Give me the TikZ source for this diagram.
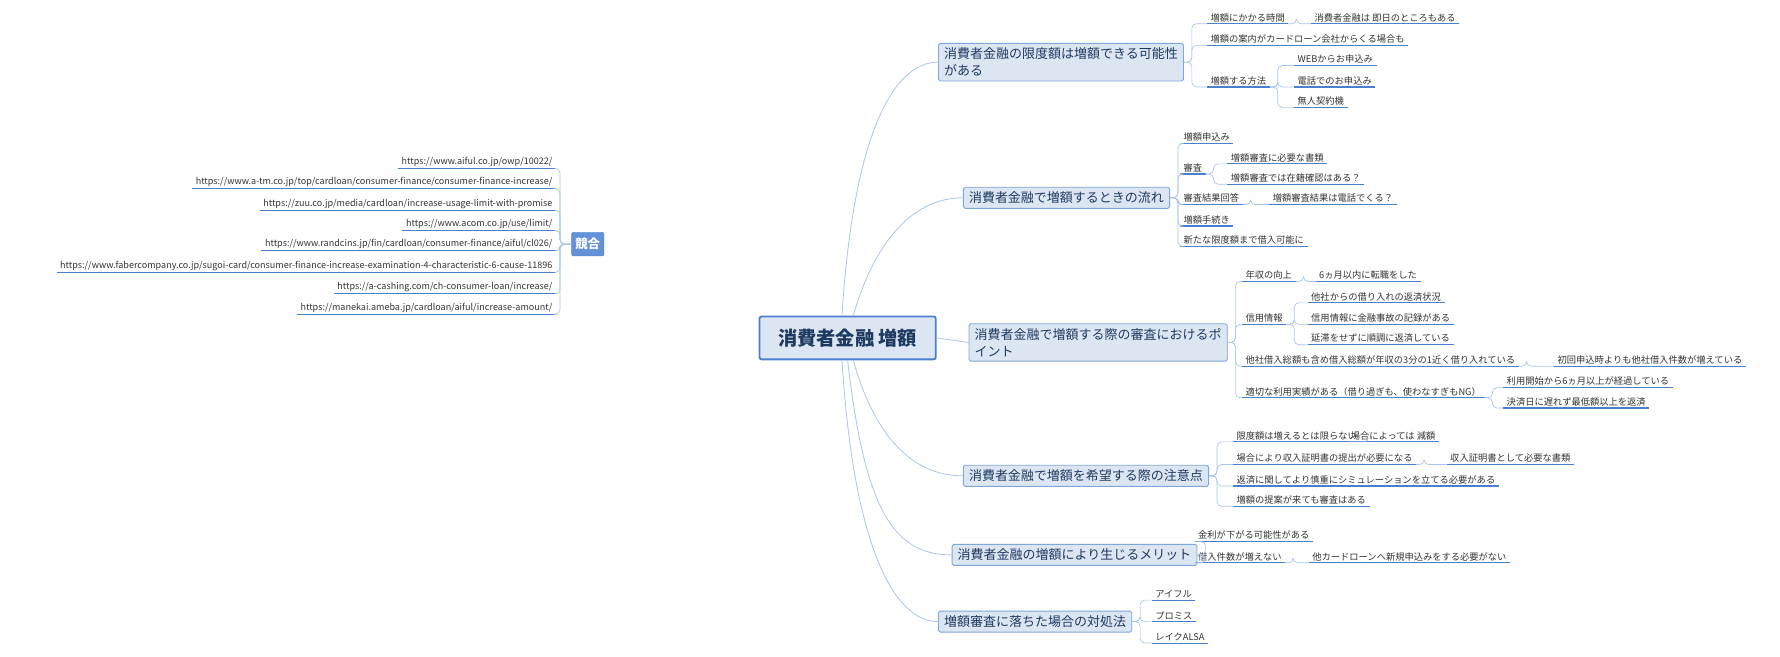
\documentclass[tikz,border=0pt]{standalone}
\usepackage{fontspec}
\setmainfont{Noto Sans CJK JP}
\definecolor{boxfill}{HTML}{DCE6F2}
\definecolor{boxline}{HTML}{7FA7DA}
\definecolor{ulc}{HTML}{4A7FD0}
\definecolor{conc}{HTML}{A9C4EA}
\definecolor{btext}{HTML}{1F3A60}
\definecolor{ltext}{HTML}{333333}
\tikzset{
  central/.style={draw=ulc,line width=1.6pt,fill=boxfill,rounded corners=2pt,font=\fontsize{17}{19}\selectfont\bfseries,text=btext,minimum width=156pt,minimum height=38pt},
  topic/.style={draw=boxline,line width=0.8pt,fill=boxfill,rounded corners=1.5pt,font=\fontsize{11.5}{15}\selectfont,text=btext,anchor=west,inner xsep=5pt,inner ysep=4pt,align=left},
  leaf/.style={font=\fontsize{8.2}{10}\selectfont,text=ltext,anchor=south west,inner xsep=3pt,inner ysep=1.5pt,
    append after command={(\tikzlastnode.south west) edge[draw=ulc,line width=1pt] (\tikzlastnode.south east)}},
  rleaf/.style={leaf,anchor=south east},
  conn/.style={draw=conc,line width=0.6pt,rounded corners=4pt},
  mainc/.style={draw=conc,line width=0.7pt},
}
\newcommand\lf[4]{\node[leaf] (#1) at (#2,#3) {#4};}
\newcommand\con[2]{\draw[conn] (#1) -- ++(7,0) |- (#2.south west);}
\begin{document}
\begin{tikzpicture}[x=1pt,y=-1pt]
\useasboundingbox (0,0) rectangle (1575,581);
\node[central] (c) at (750,299) {消費者金融 増額};
\node[topic] (b1) at (830,55) {消費者金融の限度額は増額できる可能性\\がある};
\node[topic] (b2) at (852,175) {消費者金融で増額するときの流れ};
\node[topic] (b3) at (857,303) {消費者金融で増額する際の審査におけるポ\\イント};
\node[topic] (b4) at (852,421) {消費者金融で増額を希望する際の注意点};
\node[topic] (b5) at (842,491) {消費者金融の増額により生じるメリット};
\node[topic] (b6) at (830,550) {増額審査に落ちた場合の対処法};
\node[draw=ulc,fill=ulc!85,rounded corners=2pt,text=white,font=\fontsize{11}{13}\selectfont\bfseries,minimum height=21pt] (k) at (520,216) {競合};
% central connectors
\draw[mainc] (c.north) ++(-5,0) .. controls (755,120) and (790,55) .. (b1.west);
\draw[mainc] (c.north) ++(5,0) .. controls (775,210) and (810,175) .. (b2.west);
\draw[mainc] (c.east) -- (b3.west);
\draw[mainc] (c.south) ++(5,0) .. controls (775,390) and (810,421) .. (b4.west);
\draw[mainc] (c.south) ++(0,0) .. controls (765,450) and (790,491) .. (b5.west);
\draw[mainc] (c.south) ++(-5,0) .. controls (755,480) and (790,550) .. (b6.west);
\draw[mainc] (k.west) -- ++(-8,0);
% branch 1
\lf{a1}{1068}{21}{増額にかかる時間}
\lf{a1a}{1160}{21}{消費者金融は 即日のところもある}
\lf{a2}{1068}{40}{増額の案内がカードローン会社からくる場合も}
\lf{a3}{1068}{77}{増額する方法}
\lf{a3a}{1145}{58}{WEBからお申込み}
\lf{a3b}{1145}{77}{電話でのお申込み}
\lf{a3c}{1145}{95}{無人契約機}
\con{b1.east}{a1}\con{b1.east}{a2}\con{b1.east}{a3}
\con{a1.south east}{a1a}
\con{a3.south east}{a3a}\con{a3.south east}{a3b}\con{a3.south east}{a3c}
% branch 2
\lf{f1}{1044}{127}{増額申込み}
\lf{f2}{1044}{154}{審査}
\lf{f2a}{1086}{145}{増額審査に必要な書類}
\lf{f2b}{1086}{163}{増額審査では在籍確認はある？}
\lf{f3}{1044}{181}{審査結果回答}
\lf{f3a}{1123}{181}{増額審査結果は電話でくる？}
\lf{f4}{1044}{200}{増額手続き}
\lf{f5}{1044}{218}{新たな限度額まで借入可能に}
\foreach \n in {f1,f2,f3,f4,f5}{\con{b2.east}{\n}}
\con{f2.south east}{f2a}\con{f2.south east}{f2b}
\con{f3.south east}{f3a}
% branch 3
\lf{p1}{1099}{249}{年収の向上}
\lf{p1a}{1164}{249}{6ヵ月以内に転職をした}
\lf{p2}{1099}{287}{信用情報}
\lf{p2a}{1157}{268}{他社からの借り入れの返済状況}
\lf{p2b}{1157}{287}{信用情報に金融事故の記録がある}
\lf{p2c}{1157}{305}{延滞をせずに順調に返済している}
\lf{p3}{1099}{324}{他社借入総額も含め借入総額が年収の3分の1近く借り入れている}
\lf{p3a}{1375}{324}{初回申込時よりも他社借入件数が増えている}
\lf{p4}{1099}{352}{適切な利用実績がある（借り過ぎも、使わなすぎもNG）}
\lf{p4a}{1330}{343}{利用開始から6ヵ月以上が経過している}
\lf{p4b}{1330}{361}{決済日に遅れず最低額以上を返済}
\foreach \n in {p1,p2,p3,p4}{\con{b3.east}{\n}}
\con{p1.south east}{p1a}
\con{p2.south east}{p2a}\con{p2.south east}{p2b}\con{p2.south east}{p2c}
\con{p3.south east}{p3a}
\con{p4.south east}{p4a}\con{p4.south east}{p4b}
% branch 4
\lf{n1}{1091}{391}{限度額は増えるとは限らない}
\lf{n1a}{1192}{391}{場合によっては 減額}
\lf{n2}{1091}{411}{場合により収入証明書の提出が必要になる}
\lf{n2a}{1280}{411}{収入証明書として必要な書類}
\lf{n3}{1091}{430}{返済に関してより慎重にシミュレーションを立てる必要がある}
\lf{n4}{1091}{448}{増額の提案が来ても審査はある}
\foreach \n in {n1,n2,n3,n4}{\con{b4.east}{\n}}
\con{n1.south east}{n1a}\con{n2.south east}{n2a}
% branch 5
\lf{m1}{1057}{479}{金利が下がる可能性がある}
\lf{m2}{1057}{498}{借入件数が増えない}
\lf{m2a}{1158}{498}{他カードローンへ新規申込みをする必要がない}
\con{b5.east}{m1}\con{b5.east}{m2}\con{m2.south east}{m2a}
% branch 6
\lf{r1}{1019}{531}{アイフル}
\lf{r2}{1019}{550}{プロミス}
\lf{r3}{1019}{569}{レイクALSA}
\con{b6.east}{r1}\con{b6.east}{r2}\con{b6.east}{r3}
% urls
\foreach \i/\yy/\t in {1/149/{https://www.aiful.co.jp/owp/10022/},
 2/167/{https://www.a-tm.co.jp/top/cardloan/consumer-finance/consumer-finance-increase/},
 3/186/{https://zuu.co.jp/media/cardloan/increase-usage-limit-with-promise},
 4/204/{https://www.acom.co.jp/use/limit/},
 5/222/{https://www.randcins.jp/fin/cardloan/consumer-finance/aiful/cl026/},
 6/241/{https://www.fabercompany.co.jp/sugoi-card/consumer-finance-increase-examination-4-characteristic-6-cause-11896},
 7/260/{https://a-cashing.com/ch-consumer-loan/increase/},
 8/278/{https://manekai.ameba.jp/cardloan/aiful/increase-amount/}}{
 \node[rleaf,font=\fontsize{8}{10}\selectfont] (u\i) at (492,\yy) {\t};
 \draw[conn] (k.west) -- ++(-10,0) |- (u\i.south east);
}
\end{tikzpicture}
\end{document}
